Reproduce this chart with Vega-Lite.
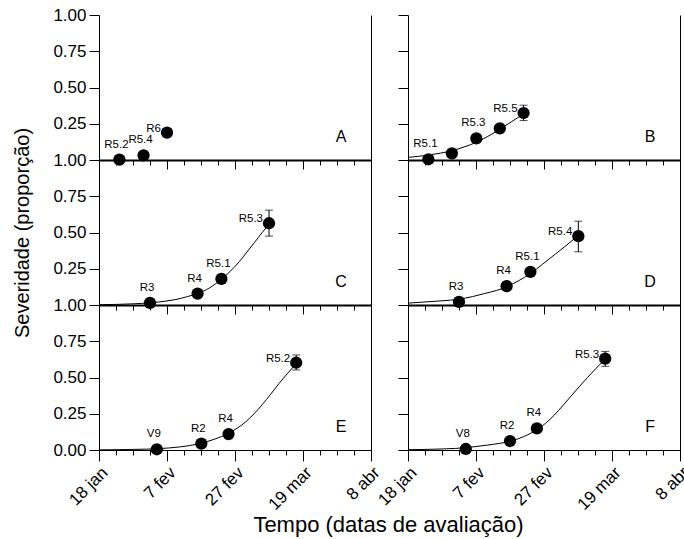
{
  "$schema": "https://vega.github.io/schema/vega-lite/v6.json",
  "padding": {"left": 12, "top": 6, "right": 2, "bottom": 2},
  "autosize": {"type": "pad"},
  "datasets": {
    "pts": [
      {"panel": "A", "day": 6.0, "sev": 0.003, "stage": "R5.2"},
      {"panel": "A", "day": 13.1, "sev": 0.032, "stage": "R5.4"},
      {"panel": "A", "day": 20.0, "sev": 0.189, "stage": "R6"},
      {"panel": "B", "day": 6.0, "sev": 0.005, "stage": "R5.1"},
      {"panel": "B", "day": 12.9, "sev": 0.046, "stage": ""},
      {"panel": "B", "day": 20.1, "sev": 0.149, "stage": "R5.3"},
      {"panel": "B", "day": 27.0, "sev": 0.218, "stage": ""},
      {"panel": "B", "day": 34.0, "sev": 0.324, "stage": "R5.5", "lo": 0.272, "hi": 0.378},
      {"panel": "C", "day": 15.0, "sev": 0.015, "stage": "R3"},
      {"panel": "C", "day": 29.0, "sev": 0.079, "stage": "R4"},
      {"panel": "C", "day": 36.0, "sev": 0.18, "stage": "R5.1"},
      {"panel": "C", "day": 50.0, "sev": 0.564, "stage": "R5.3", "lo": 0.475, "hi": 0.654},
      {"panel": "D", "day": 15.0, "sev": 0.022, "stage": "R3"},
      {"panel": "D", "day": 29.0, "sev": 0.13, "stage": "R4"},
      {"panel": "D", "day": 36.0, "sev": 0.229, "stage": "R5.1"},
      {"panel": "D", "day": 50.1, "sev": 0.475, "stage": "R5.4", "lo": 0.367, "hi": 0.578},
      {"panel": "E", "day": 17.0, "sev": 0.005, "stage": "V9"},
      {"panel": "E", "day": 30.1, "sev": 0.044, "stage": "R2"},
      {"panel": "E", "day": 38.1, "sev": 0.11, "stage": "R4"},
      {"panel": "E", "day": 58.0, "sev": 0.602, "stage": "R5.2", "lo": 0.552, "hi": 0.655},
      {"panel": "F", "day": 17.0, "sev": 0.007, "stage": "V8"},
      {"panel": "F", "day": 30.0, "sev": 0.062, "stage": "R2"},
      {"panel": "F", "day": 37.9, "sev": 0.149, "stage": "R4"},
      {"panel": "F", "day": 58.0, "sev": 0.63, "stage": "R5.3", "lo": 0.577, "hi": 0.68}
    ],
    "curve": [
      {"panel": "B", "day": 0, "sev": 0.018},
      {"panel": "B", "day": 3, "sev": 0.025},
      {"panel": "B", "day": 6, "sev": 0.034},
      {"panel": "B", "day": 9.5, "sev": 0.047},
      {"panel": "B", "day": 12.9, "sev": 0.064},
      {"panel": "B", "day": 16.5, "sev": 0.09},
      {"panel": "B", "day": 20.1, "sev": 0.122},
      {"panel": "B", "day": 23.5, "sev": 0.163},
      {"panel": "B", "day": 27, "sev": 0.212},
      {"panel": "B", "day": 30.5, "sev": 0.265},
      {"panel": "B", "day": 34, "sev": 0.318},
      {"panel": "C", "day": 0, "sev": 0.002},
      {"panel": "C", "day": 5, "sev": 0.004},
      {"panel": "C", "day": 10, "sev": 0.008},
      {"panel": "C", "day": 15, "sev": 0.015},
      {"panel": "C", "day": 20, "sev": 0.028},
      {"panel": "C", "day": 22.6, "sev": 0.038},
      {"panel": "C", "day": 26, "sev": 0.058},
      {"panel": "C", "day": 29, "sev": 0.079},
      {"panel": "C", "day": 32.5, "sev": 0.118},
      {"panel": "C", "day": 36, "sev": 0.178},
      {"panel": "C", "day": 38.5, "sev": 0.23},
      {"panel": "C", "day": 41.3, "sev": 0.3},
      {"panel": "C", "day": 43.5, "sev": 0.365},
      {"panel": "C", "day": 45.7, "sev": 0.43},
      {"panel": "C", "day": 48, "sev": 0.5},
      {"panel": "C", "day": 50, "sev": 0.556},
      {"panel": "D", "day": 0, "sev": 0.013},
      {"panel": "D", "day": 5, "sev": 0.021},
      {"panel": "D", "day": 10, "sev": 0.029},
      {"panel": "D", "day": 15, "sev": 0.04},
      {"panel": "D", "day": 19, "sev": 0.058},
      {"panel": "D", "day": 22.5, "sev": 0.079},
      {"panel": "D", "day": 26, "sev": 0.1},
      {"panel": "D", "day": 29, "sev": 0.125},
      {"panel": "D", "day": 32.5, "sev": 0.167},
      {"panel": "D", "day": 36, "sev": 0.217},
      {"panel": "D", "day": 39.5, "sev": 0.28},
      {"panel": "D", "day": 43, "sev": 0.345},
      {"panel": "D", "day": 46.5, "sev": 0.41},
      {"panel": "D", "day": 50.1, "sev": 0.48},
      {"panel": "E", "day": 0, "sev": 0.001},
      {"panel": "E", "day": 5, "sev": 0.002},
      {"panel": "E", "day": 10, "sev": 0.004},
      {"panel": "E", "day": 14, "sev": 0.006},
      {"panel": "E", "day": 17, "sev": 0.008},
      {"panel": "E", "day": 20.5, "sev": 0.014},
      {"panel": "E", "day": 23.6, "sev": 0.021},
      {"panel": "E", "day": 27, "sev": 0.032},
      {"panel": "E", "day": 30.1, "sev": 0.047},
      {"panel": "E", "day": 34, "sev": 0.075},
      {"panel": "E", "day": 38.1, "sev": 0.115},
      {"panel": "E", "day": 40.6, "sev": 0.15},
      {"panel": "E", "day": 43.2, "sev": 0.195},
      {"panel": "E", "day": 45.6, "sev": 0.25},
      {"panel": "E", "day": 48.1, "sev": 0.315},
      {"panel": "E", "day": 50.5, "sev": 0.385},
      {"panel": "E", "day": 53, "sev": 0.46},
      {"panel": "E", "day": 55.5, "sev": 0.53},
      {"panel": "E", "day": 58, "sev": 0.595},
      {"panel": "F", "day": 0, "sev": 0.002},
      {"panel": "F", "day": 5, "sev": 0.004},
      {"panel": "F", "day": 10, "sev": 0.007},
      {"panel": "F", "day": 14, "sev": 0.011},
      {"panel": "F", "day": 17, "sev": 0.016},
      {"panel": "F", "day": 20, "sev": 0.024},
      {"panel": "F", "day": 23.4, "sev": 0.034},
      {"panel": "F", "day": 27, "sev": 0.046},
      {"panel": "F", "day": 30, "sev": 0.06},
      {"panel": "F", "day": 34, "sev": 0.092},
      {"panel": "F", "day": 37.9, "sev": 0.14},
      {"panel": "F", "day": 40.5, "sev": 0.185},
      {"panel": "F", "day": 43, "sev": 0.24},
      {"panel": "F", "day": 45.5, "sev": 0.305},
      {"panel": "F", "day": 47.9, "sev": 0.37},
      {"panel": "F", "day": 50.3, "sev": 0.435},
      {"panel": "F", "day": 52.8, "sev": 0.5},
      {"panel": "F", "day": 55.4, "sev": 0.565},
      {"panel": "F", "day": 58, "sev": 0.628}
    ],
    "letters": [
      {"panel": "A"}, {"panel": "B"}, {"panel": "C"}, {"panel": "D"}, {"panel": "E"}, {"panel": "F"}
    ]
  },
  "columns": 2,
  "spacing": {"row": 0, "column": 37},
  "bounds": "flush",
  "concat": [
    {
      "width": 272, "height": 145,
      "layer": [
        {"data": {"name": "curve"}, "transform": [{"filter": "datum.panel == 'A'"}],
         "mark": {"type": "line", "color": "black", "strokeWidth": 1, "interpolate": "monotone"},
         "encoding": {
           "x": {"field": "day", "type": "quantitative", "scale": {"domain": [0, 80], "nice": false, "zero": false},
                 "axis": {"orient": "bottom", "values": [0, 20, 40, 60, 80], "labels": false, "tickSize": 9, "domainWidth": 2, "title": null}},
           "y": {"field": "sev", "type": "quantitative", "scale": {"domain": [0, 1], "nice": false},
                 "axis": {"orient": "left", "values": [0, 0.25, 0.5, 0.75, 1], "labelExpr": "datum.value == 0 ? '1.00' : format(datum.value, '.2f')", "tickSize": 10, "labelPadding": 3, "title": null}}
         }},
        {"data": {"name": "pts"}, "transform": [{"filter": "datum.panel == 'A' && isValid(datum.lo)"}],
         "mark": {"type": "rule", "color": "black", "strokeWidth": 1},
         "encoding": {"x": {"field": "day", "type": "quantitative", "axis": null}, "y": {"field": "lo", "type": "quantitative", "axis": null}, "y2": {"field": "hi"}}},
        {"data": {"name": "pts"}, "transform": [{"filter": "datum.panel == 'A' && isValid(datum.lo)"}, {"fold": ["lo", "hi"], "as": ["k", "v"]}],
         "mark": {"type": "tick", "orient": "horizontal", "size": 8, "thickness": 1, "color": "black"},
         "encoding": {"x": {"field": "day", "type": "quantitative", "axis": null}, "y": {"field": "v", "type": "quantitative", "axis": null}}},
        {"data": {"name": "pts"}, "transform": [{"filter": "datum.panel == 'A'"}],
         "mark": {"type": "circle", "size": 150, "opacity": 1, "color": "black"},
         "encoding": {
           "x": {"field": "day", "type": "quantitative", "axis": {"orient": "bottom", "values": [0,5,10,15,20,25,30,35,40,45,50,55,60,65,70,75,80], "labels": false, "domain": false, "tickSize": 5, "title": null}},
           "y": {"field": "sev", "type": "quantitative", "axis": {"orient": "right", "ticks": false, "labels": false, "domain": true, "title": null}}
         }},
        {"data": {"name": "pts"}, "transform": [{"filter": "datum.panel == 'A'"}, {"joinaggregate": [{"op": "max", "field": "day", "as": "mx"}]}, {"filter": "datum.day < datum.mx && datum.stage != ''"}],
         "mark": {"type": "text", "fontSize": 11.5, "dx": -3, "dy": -15, "align": "center", "baseline": "middle", "color": "black", "font": "Liberation Sans"},
         "encoding": {"x": {"field": "day", "type": "quantitative", "axis": null}, "y": {"field": "sev", "type": "quantitative", "axis": null}, "text": {"field": "stage"}}},
        {"data": {"name": "pts"}, "transform": [{"filter": "datum.panel == 'A'"}, {"joinaggregate": [{"op": "max", "field": "day", "as": "mx"}]}, {"filter": "datum.day == datum.mx"}],
         "mark": {"type": "text", "fontSize": 11.5, "dx": -6, "dy": -4, "align": "right", "baseline": "middle", "color": "black", "font": "Liberation Sans"},
         "encoding": {"x": {"field": "day", "type": "quantitative", "axis": null}, "y": {"field": "sev", "type": "quantitative", "axis": null}, "text": {"field": "stage"}}},
        {"data": {"name": "letters"}, "transform": [{"filter": "datum.panel == 'A'"}],
         "mark": {"type": "text", "fontSize": 16, "align": "center", "baseline": "middle", "color": "black", "font": "Liberation Sans"},
         "encoding": {"x": {"datum": 71.2, "type": "quantitative", "axis": null}, "y": {"datum": 0.16, "type": "quantitative", "axis": null}, "text": {"field": "panel"}}}
      ],
      "resolve": {"axis": {"x": "independent", "y": "independent"}}
    },
    {
      "width": 272, "height": 145,
      "layer": [
        {"data": {"name": "curve"}, "transform": [{"filter": "datum.panel == 'B'"}],
         "mark": {"type": "line", "color": "black", "strokeWidth": 1, "interpolate": "monotone"},
         "encoding": {
           "x": {"field": "day", "type": "quantitative", "scale": {"domain": [0, 80], "nice": false, "zero": false},
                 "axis": {"orient": "bottom", "values": [0, 20, 40, 60, 80], "labels": false, "tickSize": 9, "domainWidth": 2, "title": null}},
           "y": {"field": "sev", "type": "quantitative", "scale": {"domain": [0, 1], "nice": false},
                 "axis": {"orient": "left", "values": [0, 0.25, 0.5, 0.75, 1], "labels": false, "tickSize": 10, "title": null}}
         }},
        {"data": {"name": "pts"}, "transform": [{"filter": "datum.panel == 'B' && isValid(datum.lo)"}],
         "mark": {"type": "rule", "color": "black", "strokeWidth": 1},
         "encoding": {"x": {"field": "day", "type": "quantitative", "axis": null}, "y": {"field": "lo", "type": "quantitative", "axis": null}, "y2": {"field": "hi"}}},
        {"data": {"name": "pts"}, "transform": [{"filter": "datum.panel == 'B' && isValid(datum.lo)"}, {"fold": ["lo", "hi"], "as": ["k", "v"]}],
         "mark": {"type": "tick", "orient": "horizontal", "size": 8, "thickness": 1, "color": "black"},
         "encoding": {"x": {"field": "day", "type": "quantitative", "axis": null}, "y": {"field": "v", "type": "quantitative", "axis": null}}},
        {"data": {"name": "pts"}, "transform": [{"filter": "datum.panel == 'B'"}],
         "mark": {"type": "circle", "size": 150, "opacity": 1, "color": "black"},
         "encoding": {
           "x": {"field": "day", "type": "quantitative", "axis": {"orient": "bottom", "values": [0,5,10,15,20,25,30,35,40,45,50,55,60,65,70,75,80], "labels": false, "domain": false, "tickSize": 5, "title": null}},
           "y": {"field": "sev", "type": "quantitative", "axis": {"orient": "right", "ticks": false, "labels": false, "domain": true, "title": null}}
         }},
        {"data": {"name": "pts"}, "transform": [{"filter": "datum.panel == 'B'"}, {"joinaggregate": [{"op": "max", "field": "day", "as": "mx"}]}, {"filter": "datum.day < datum.mx && datum.stage != ''"}],
         "mark": {"type": "text", "fontSize": 11.5, "dx": -3, "dy": -15, "align": "center", "baseline": "middle", "color": "black", "font": "Liberation Sans"},
         "encoding": {"x": {"field": "day", "type": "quantitative", "axis": null}, "y": {"field": "sev", "type": "quantitative", "axis": null}, "text": {"field": "stage"}}},
        {"data": {"name": "pts"}, "transform": [{"filter": "datum.panel == 'B'"}, {"joinaggregate": [{"op": "max", "field": "day", "as": "mx"}]}, {"filter": "datum.day == datum.mx"}],
         "mark": {"type": "text", "fontSize": 11.5, "dx": -6, "dy": -4, "align": "right", "baseline": "middle", "color": "black", "font": "Liberation Sans"},
         "encoding": {"x": {"field": "day", "type": "quantitative", "axis": null}, "y": {"field": "sev", "type": "quantitative", "axis": null}, "text": {"field": "stage"}}},
        {"data": {"name": "letters"}, "transform": [{"filter": "datum.panel == 'B'"}],
         "mark": {"type": "text", "fontSize": 16, "align": "center", "baseline": "middle", "color": "black", "font": "Liberation Sans"},
         "encoding": {"x": {"datum": 71.2, "type": "quantitative", "axis": null}, "y": {"datum": 0.16, "type": "quantitative", "axis": null}, "text": {"field": "panel"}}}
      ],
      "resolve": {"axis": {"x": "independent", "y": "independent"}}
    },
    {
      "width": 272, "height": 145,
      "layer": [
        {"data": {"name": "curve"}, "transform": [{"filter": "datum.panel == 'C'"}],
         "mark": {"type": "line", "color": "black", "strokeWidth": 1, "interpolate": "monotone"},
         "encoding": {
           "x": {"field": "day", "type": "quantitative", "scale": {"domain": [0, 80], "nice": false, "zero": false},
                 "axis": {"orient": "bottom", "values": [0, 20, 40, 60, 80], "labels": false, "tickSize": 9, "domainWidth": 2, "title": null}},
           "y": {"field": "sev", "type": "quantitative", "scale": {"domain": [0, 1], "nice": false},
                 "axis": {"orient": "left", "values": [0, 0.25, 0.5, 0.75], "labelExpr": "datum.value == 0 ? '1.00' : format(datum.value, '.2f')", "tickSize": 10, "labelPadding": 3, "title": "Severidade  (proporção)", "titlePadding": 20}}
         }},
        {"data": {"name": "pts"}, "transform": [{"filter": "datum.panel == 'C' && isValid(datum.lo)"}],
         "mark": {"type": "rule", "color": "black", "strokeWidth": 1},
         "encoding": {"x": {"field": "day", "type": "quantitative", "axis": null}, "y": {"field": "lo", "type": "quantitative", "axis": null}, "y2": {"field": "hi"}}},
        {"data": {"name": "pts"}, "transform": [{"filter": "datum.panel == 'C' && isValid(datum.lo)"}, {"fold": ["lo", "hi"], "as": ["k", "v"]}],
         "mark": {"type": "tick", "orient": "horizontal", "size": 8, "thickness": 1, "color": "black"},
         "encoding": {"x": {"field": "day", "type": "quantitative", "axis": null}, "y": {"field": "v", "type": "quantitative", "axis": null}}},
        {"data": {"name": "pts"}, "transform": [{"filter": "datum.panel == 'C'"}],
         "mark": {"type": "circle", "size": 150, "opacity": 1, "color": "black"},
         "encoding": {
           "x": {"field": "day", "type": "quantitative", "axis": {"orient": "bottom", "values": [0,5,10,15,20,25,30,35,40,45,50,55,60,65,70,75,80], "labels": false, "domain": false, "tickSize": 5, "title": null}},
           "y": {"field": "sev", "type": "quantitative", "axis": {"orient": "right", "ticks": false, "labels": false, "domain": true, "title": null}}
         }},
        {"data": {"name": "pts"}, "transform": [{"filter": "datum.panel == 'C'"}, {"joinaggregate": [{"op": "max", "field": "day", "as": "mx"}]}, {"filter": "datum.day < datum.mx && datum.stage != ''"}],
         "mark": {"type": "text", "fontSize": 11.5, "dx": -3, "dy": -15, "align": "center", "baseline": "middle", "color": "black", "font": "Liberation Sans"},
         "encoding": {"x": {"field": "day", "type": "quantitative", "axis": null}, "y": {"field": "sev", "type": "quantitative", "axis": null}, "text": {"field": "stage"}}},
        {"data": {"name": "pts"}, "transform": [{"filter": "datum.panel == 'C'"}, {"joinaggregate": [{"op": "max", "field": "day", "as": "mx"}]}, {"filter": "datum.day == datum.mx"}],
         "mark": {"type": "text", "fontSize": 11.5, "dx": -6, "dy": -4, "align": "right", "baseline": "middle", "color": "black", "font": "Liberation Sans"},
         "encoding": {"x": {"field": "day", "type": "quantitative", "axis": null}, "y": {"field": "sev", "type": "quantitative", "axis": null}, "text": {"field": "stage"}}},
        {"data": {"name": "letters"}, "transform": [{"filter": "datum.panel == 'C'"}],
         "mark": {"type": "text", "fontSize": 16, "align": "center", "baseline": "middle", "color": "black", "font": "Liberation Sans"},
         "encoding": {"x": {"datum": 71.2, "type": "quantitative", "axis": null}, "y": {"datum": 0.16, "type": "quantitative", "axis": null}, "text": {"field": "panel"}}}
      ],
      "resolve": {"axis": {"x": "independent", "y": "independent"}}
    },
    {
      "width": 272, "height": 145,
      "layer": [
        {"data": {"name": "curve"}, "transform": [{"filter": "datum.panel == 'D'"}],
         "mark": {"type": "line", "color": "black", "strokeWidth": 1, "interpolate": "monotone"},
         "encoding": {
           "x": {"field": "day", "type": "quantitative", "scale": {"domain": [0, 80], "nice": false, "zero": false},
                 "axis": {"orient": "bottom", "values": [0, 20, 40, 60, 80], "labels": false, "tickSize": 9, "domainWidth": 2, "title": null}},
           "y": {"field": "sev", "type": "quantitative", "scale": {"domain": [0, 1], "nice": false},
                 "axis": {"orient": "left", "values": [0, 0.25, 0.5, 0.75], "labels": false, "tickSize": 10, "title": null}}
         }},
        {"data": {"name": "pts"}, "transform": [{"filter": "datum.panel == 'D' && isValid(datum.lo)"}],
         "mark": {"type": "rule", "color": "black", "strokeWidth": 1},
         "encoding": {"x": {"field": "day", "type": "quantitative", "axis": null}, "y": {"field": "lo", "type": "quantitative", "axis": null}, "y2": {"field": "hi"}}},
        {"data": {"name": "pts"}, "transform": [{"filter": "datum.panel == 'D' && isValid(datum.lo)"}, {"fold": ["lo", "hi"], "as": ["k", "v"]}],
         "mark": {"type": "tick", "orient": "horizontal", "size": 8, "thickness": 1, "color": "black"},
         "encoding": {"x": {"field": "day", "type": "quantitative", "axis": null}, "y": {"field": "v", "type": "quantitative", "axis": null}}},
        {"data": {"name": "pts"}, "transform": [{"filter": "datum.panel == 'D'"}],
         "mark": {"type": "circle", "size": 150, "opacity": 1, "color": "black"},
         "encoding": {
           "x": {"field": "day", "type": "quantitative", "axis": {"orient": "bottom", "values": [0,5,10,15,20,25,30,35,40,45,50,55,60,65,70,75,80], "labels": false, "domain": false, "tickSize": 5, "title": null}},
           "y": {"field": "sev", "type": "quantitative", "axis": {"orient": "right", "ticks": false, "labels": false, "domain": true, "title": null}}
         }},
        {"data": {"name": "pts"}, "transform": [{"filter": "datum.panel == 'D'"}, {"joinaggregate": [{"op": "max", "field": "day", "as": "mx"}]}, {"filter": "datum.day < datum.mx && datum.stage != ''"}],
         "mark": {"type": "text", "fontSize": 11.5, "dx": -3, "dy": -15, "align": "center", "baseline": "middle", "color": "black", "font": "Liberation Sans"},
         "encoding": {"x": {"field": "day", "type": "quantitative", "axis": null}, "y": {"field": "sev", "type": "quantitative", "axis": null}, "text": {"field": "stage"}}},
        {"data": {"name": "pts"}, "transform": [{"filter": "datum.panel == 'D'"}, {"joinaggregate": [{"op": "max", "field": "day", "as": "mx"}]}, {"filter": "datum.day == datum.mx"}],
         "mark": {"type": "text", "fontSize": 11.5, "dx": -6, "dy": -4, "align": "right", "baseline": "middle", "color": "black", "font": "Liberation Sans"},
         "encoding": {"x": {"field": "day", "type": "quantitative", "axis": null}, "y": {"field": "sev", "type": "quantitative", "axis": null}, "text": {"field": "stage"}}},
        {"data": {"name": "letters"}, "transform": [{"filter": "datum.panel == 'D'"}],
         "mark": {"type": "text", "fontSize": 16, "align": "center", "baseline": "middle", "color": "black", "font": "Liberation Sans"},
         "encoding": {"x": {"datum": 71.2, "type": "quantitative", "axis": null}, "y": {"datum": 0.16, "type": "quantitative", "axis": null}, "text": {"field": "panel"}}}
      ],
      "resolve": {"axis": {"x": "independent", "y": "independent"}}
    },
    {
      "width": 272, "height": 145,
      "layer": [
        {"data": {"name": "curve"}, "transform": [{"filter": "datum.panel == 'E'"}],
         "mark": {"type": "line", "color": "black", "strokeWidth": 1, "interpolate": "monotone"},
         "encoding": {
           "x": {"field": "day", "type": "quantitative", "scale": {"domain": [0, 80], "nice": false, "zero": false},
                 "axis": {"orient": "bottom", "values": [0, 20, 40, 60, 80], "labelExpr": "['18 jan','7 fev','27 fev','19 mar','8 abr'][round(datum.value/20)]", "labelAngle": -45, "labelPadding": 3, "tickSize": 11, "domainWidth": 1, "title": "Tempo (datas de avaliação)", "titleX": 289, "titlePadding": 2, "titleFontSize": 22}},
           "y": {"field": "sev", "type": "quantitative", "scale": {"domain": [0, 1], "nice": false},
                 "axis": {"orient": "left", "values": [0, 0.25, 0.5, 0.75], "format": ".2f", "tickSize": 10, "labelPadding": 3, "title": null}}
         }},
        {"data": {"name": "pts"}, "transform": [{"filter": "datum.panel == 'E' && isValid(datum.lo)"}],
         "mark": {"type": "rule", "color": "black", "strokeWidth": 1},
         "encoding": {"x": {"field": "day", "type": "quantitative", "axis": null}, "y": {"field": "lo", "type": "quantitative", "axis": null}, "y2": {"field": "hi"}}},
        {"data": {"name": "pts"}, "transform": [{"filter": "datum.panel == 'E' && isValid(datum.lo)"}, {"fold": ["lo", "hi"], "as": ["k", "v"]}],
         "mark": {"type": "tick", "orient": "horizontal", "size": 8, "thickness": 1, "color": "black"},
         "encoding": {"x": {"field": "day", "type": "quantitative", "axis": null}, "y": {"field": "v", "type": "quantitative", "axis": null}}},
        {"data": {"name": "pts"}, "transform": [{"filter": "datum.panel == 'E'"}],
         "mark": {"type": "circle", "size": 150, "opacity": 1, "color": "black"},
         "encoding": {
           "x": {"field": "day", "type": "quantitative", "axis": {"orient": "bottom", "values": [0,5,10,15,20,25,30,35,40,45,50,55,60,65,70,75,80], "labels": false, "domain": false, "tickSize": 5, "title": null}},
           "y": {"field": "sev", "type": "quantitative", "axis": {"orient": "right", "ticks": false, "labels": false, "domain": true, "title": null}}
         }},
        {"data": {"name": "pts"}, "transform": [{"filter": "datum.panel == 'E'"}, {"joinaggregate": [{"op": "max", "field": "day", "as": "mx"}]}, {"filter": "datum.day < datum.mx && datum.stage != ''"}],
         "mark": {"type": "text", "fontSize": 11.5, "dx": -3, "dy": -15, "align": "center", "baseline": "middle", "color": "black", "font": "Liberation Sans"},
         "encoding": {"x": {"field": "day", "type": "quantitative", "axis": null}, "y": {"field": "sev", "type": "quantitative", "axis": null}, "text": {"field": "stage"}}},
        {"data": {"name": "pts"}, "transform": [{"filter": "datum.panel == 'E'"}, {"joinaggregate": [{"op": "max", "field": "day", "as": "mx"}]}, {"filter": "datum.day == datum.mx"}],
         "mark": {"type": "text", "fontSize": 11.5, "dx": -6, "dy": -4, "align": "right", "baseline": "middle", "color": "black", "font": "Liberation Sans"},
         "encoding": {"x": {"field": "day", "type": "quantitative", "axis": null}, "y": {"field": "sev", "type": "quantitative", "axis": null}, "text": {"field": "stage"}}},
        {"data": {"name": "letters"}, "transform": [{"filter": "datum.panel == 'E'"}],
         "mark": {"type": "text", "fontSize": 16, "align": "center", "baseline": "middle", "color": "black", "font": "Liberation Sans"},
         "encoding": {"x": {"datum": 71.2, "type": "quantitative", "axis": null}, "y": {"datum": 0.16, "type": "quantitative", "axis": null}, "text": {"field": "panel"}}}
      ],
      "resolve": {"axis": {"x": "independent", "y": "independent"}}
    },
    {
      "width": 272, "height": 145,
      "layer": [
        {"data": {"name": "curve"}, "transform": [{"filter": "datum.panel == 'F'"}],
         "mark": {"type": "line", "color": "black", "strokeWidth": 1, "interpolate": "monotone"},
         "encoding": {
           "x": {"field": "day", "type": "quantitative", "scale": {"domain": [0, 80], "nice": false, "zero": false},
                 "axis": {"orient": "bottom", "values": [0, 20, 40, 60, 80], "labelExpr": "['18 jan','7 fev','27 fev','19 mar','8 abr'][round(datum.value/20)]", "labelAngle": -45, "labelPadding": 3, "tickSize": 11, "domainWidth": 1, "title": null}},
           "y": {"field": "sev", "type": "quantitative", "scale": {"domain": [0, 1], "nice": false},
                 "axis": {"orient": "left", "values": [0, 0.25, 0.5, 0.75], "labels": false, "tickSize": 10, "title": null}}
         }},
        {"data": {"name": "pts"}, "transform": [{"filter": "datum.panel == 'F' && isValid(datum.lo)"}],
         "mark": {"type": "rule", "color": "black", "strokeWidth": 1},
         "encoding": {"x": {"field": "day", "type": "quantitative", "axis": null}, "y": {"field": "lo", "type": "quantitative", "axis": null}, "y2": {"field": "hi"}}},
        {"data": {"name": "pts"}, "transform": [{"filter": "datum.panel == 'F' && isValid(datum.lo)"}, {"fold": ["lo", "hi"], "as": ["k", "v"]}],
         "mark": {"type": "tick", "orient": "horizontal", "size": 8, "thickness": 1, "color": "black"},
         "encoding": {"x": {"field": "day", "type": "quantitative", "axis": null}, "y": {"field": "v", "type": "quantitative", "axis": null}}},
        {"data": {"name": "pts"}, "transform": [{"filter": "datum.panel == 'F'"}],
         "mark": {"type": "circle", "size": 150, "opacity": 1, "color": "black"},
         "encoding": {
           "x": {"field": "day", "type": "quantitative", "axis": {"orient": "bottom", "values": [0,5,10,15,20,25,30,35,40,45,50,55,60,65,70,75,80], "labels": false, "domain": false, "tickSize": 5, "title": null}},
           "y": {"field": "sev", "type": "quantitative", "axis": {"orient": "right", "ticks": false, "labels": false, "domain": true, "title": null}}
         }},
        {"data": {"name": "pts"}, "transform": [{"filter": "datum.panel == 'F'"}, {"joinaggregate": [{"op": "max", "field": "day", "as": "mx"}]}, {"filter": "datum.day < datum.mx && datum.stage != ''"}],
         "mark": {"type": "text", "fontSize": 11.5, "dx": -3, "dy": -15, "align": "center", "baseline": "middle", "color": "black", "font": "Liberation Sans"},
         "encoding": {"x": {"field": "day", "type": "quantitative", "axis": null}, "y": {"field": "sev", "type": "quantitative", "axis": null}, "text": {"field": "stage"}}},
        {"data": {"name": "pts"}, "transform": [{"filter": "datum.panel == 'F'"}, {"joinaggregate": [{"op": "max", "field": "day", "as": "mx"}]}, {"filter": "datum.day == datum.mx"}],
         "mark": {"type": "text", "fontSize": 11.5, "dx": -6, "dy": -4, "align": "right", "baseline": "middle", "color": "black", "font": "Liberation Sans"},
         "encoding": {"x": {"field": "day", "type": "quantitative", "axis": null}, "y": {"field": "sev", "type": "quantitative", "axis": null}, "text": {"field": "stage"}}},
        {"data": {"name": "letters"}, "transform": [{"filter": "datum.panel == 'F'"}],
         "mark": {"type": "text", "fontSize": 16, "align": "center", "baseline": "middle", "color": "black", "font": "Liberation Sans"},
         "encoding": {"x": {"datum": 71.2, "type": "quantitative", "axis": null}, "y": {"datum": 0.16, "type": "quantitative", "axis": null}, "text": {"field": "panel"}}}
      ],
      "resolve": {"axis": {"x": "independent", "y": "independent"}}
    }
  ],
  "config": {
    "view": {"stroke": null},
    "font": "Liberation Sans",
    "axis": {"grid": false, "domainColor": "black", "tickColor": "black", "labelColor": "black", "titleColor": "black",
             "labelFont": "Liberation Sans", "titleFont": "Liberation Sans", "labelFontSize": 17, "titleFontSize": 20,
             "titleFontWeight": "normal", "domainWidth": 1, "tickWidth": 1}
  }
}
